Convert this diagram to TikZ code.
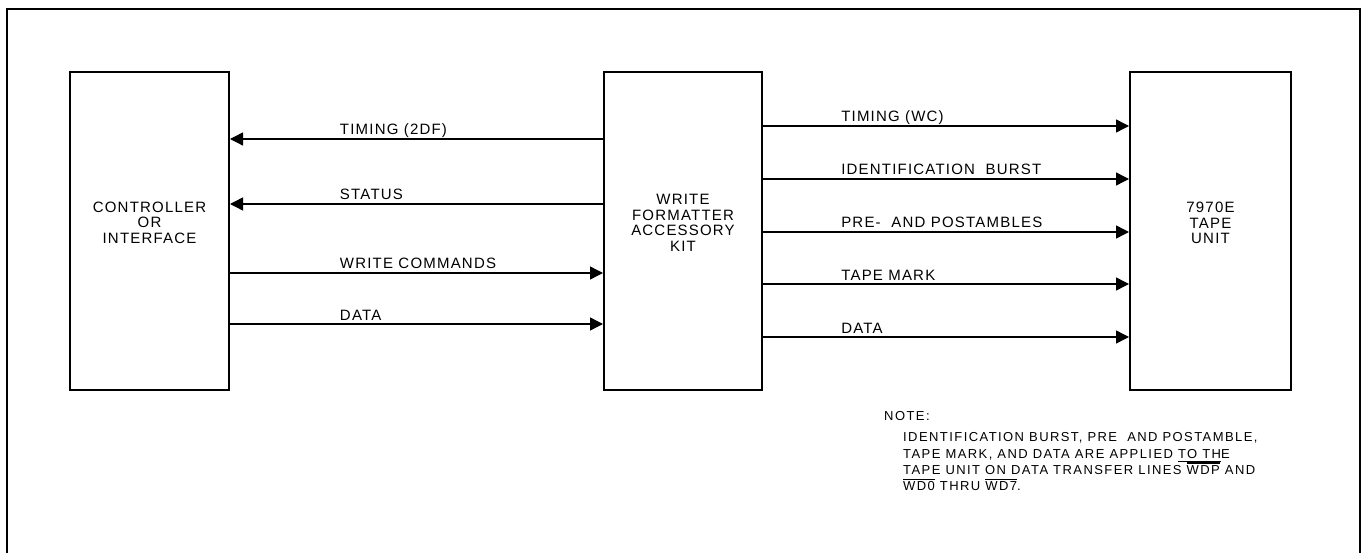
\documentclass[tikz,border=0pt]{standalone}
\usepackage{fontspec}
\setmainfont{Liberation Sans}
\newfontfamily\sigfont[LetterSpace=8]{Liberation Sans}
\newfontfamily\notefont[LetterSpace=11]{Liberation Sans}
\usepackage{tikz}
\usetikzlibrary{arrows.meta}
\newcommand\ovbar[1]{\leavevmode\setbox0\hbox{#1}\rlap{\rule[11pt]{\wd0}{1.2pt}}\box0\relax}
\newcommand\unbar[1]{\leavevmode\setbox0\hbox{#1}\rlap{\rule[-3.5pt]{\wd0}{1.2pt}}\box0\relax}

\begin{document}
\begin{tikzpicture}[x=1pt,y=-1pt,>={Triangle[length=13pt,width=13pt]},
  blk/.style={draw,line width=2pt,inner sep=0pt,minimum height=318pt},
  blktxt/.style={align=center,inner sep=0pt,font=\sigfont\fontsize{15}{15.5}\selectfont},
  sig/.style={line width=1.4pt},
  lbl/.style={anchor=base west,yshift=4pt,inner sep=0pt,font=\sigfont\fontsize{15}{16}\selectfont},
  notetxt/.style={inner sep=0pt,align=left,font=\notefont\fontsize{13}{16.3}\selectfont}]
\useasboundingbox(0,0)rectangle(1362,553);
\draw[line width=1.8pt](7,553)--(7,9)--(1360,9)--(1360,553);
\node[blk,minimum width=159pt,label={[blktxt,yshift=8.5pt]center:{CONTROLLER\\OR\\INTERFACE}}](ctrl)at(149.5,231){};
\node[blk,minimum width=158pt,label={[blktxt,yshift=8pt]center:{WRITE\\FORMATTER\\ACCESSORY\\KIT}}](wfak)at(683,231){};
\node[blk,minimum width=161pt,label={[blktxt,yshift=8pt]center:{7970E\\TAPE\\UNIT}}](tape)at(1210.5,231){};
\draw[sig,<-](ctrl.east|-0,139)--(wfak.west|-0,139)node[lbl,pos=.293]{TIMING (2DF)};
\draw[sig,<-](ctrl.east|-0,204)--(wfak.west|-0,204)node[lbl,pos=.293]{STATUS};
\draw[sig,->](ctrl.east|-0,273)--(wfak.west|-0,273)node[lbl,pos=.293]{WRITE COMMANDS};
\draw[sig,->](ctrl.east|-0,324)--(wfak.west|-0,324)node[lbl,pos=.293]{DATA};
\foreach \yy/\txt in {126/TIMING (WC),179/IDENTIFICATION\ \ BURST,232/PRE-\ \ AND POSTAMBLES,284/TAPE MARK,337/DATA}
  \draw[sig,->](wfak.east|-0,\yy)--(tape.west|-0,\yy)node[lbl,pos=.212]{\txt};
\node[notetxt,anchor=base west](notehd)at(884,420){NOTE:};
\node[notetxt,anchor=north west](notebody)at(903,432.7){IDENTIFICATION BURST, PRE\ \ AND POSTAMBLE,\\
TAPE MARK, AND DATA ARE APPLIED \unbar{TO TH}E\\
TAPE UNIT ON DATA TRANSFER LINES \ovbar{WDP} AND\\
\ovbar{WD0} THRU \ovbar{WD7}.};
\end{tikzpicture}
\end{document}
